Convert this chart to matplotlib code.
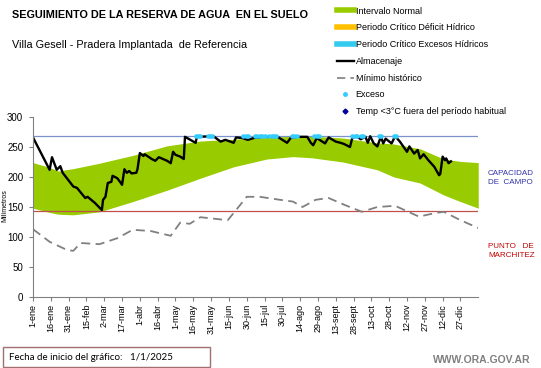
import matplotlib.pyplot as plt
from matplotlib.lines import Line2D
from matplotlib.patches import Rectangle
import numpy as np

plt.rcParams['font.family'] = ['Liberation Sans', 'DejaVu Sans']

# datos (dia del año desde 1-ene, milimetros)
band_days = [0, 14, 21, 34, 56, 84, 113, 141, 169, 197, 219, 235, 261, 290, 304, 326, 346, 360, 375]
band_upper = [224, 216, 210, 214, 223, 236, 252, 260, 263, 266, 268, 268, 265, 257, 255, 247, 230, 226, 224]
band_lower = [148, 141, 138, 137, 142, 159, 178, 198, 217, 230, 234, 232, 225, 212, 200, 190, 170, 159, 148]

min_days = [0, 14, 29, 34, 40, 56, 71, 84, 99, 116, 124, 132, 141, 164, 169, 180, 191, 208, 219,
            227, 238, 249, 263, 277, 290, 305, 325, 339, 346, 360, 375]
min_hist = [113, 92, 78, 77, 90, 88, 98, 112, 110, 102, 124, 122, 133, 128, 140, 167, 167, 162, 159,
            150, 162, 165, 153, 142, 150, 152, 134, 140, 142, 128, 115]

alm_days = [0, 14, 16, 20, 23, 25, 34, 37, 44, 46, 52, 58, 59, 61, 63, 66, 67, 71, 74, 75, 77, 79,
            81, 83, 87, 88, 90, 93, 94, 100, 103, 106, 113, 116, 118, 120, 124, 127, 128, 137, 138,
            152, 158, 162, 169, 171, 176, 181, 186, 194, 206, 214, 217, 222, 231, 234, 236, 239,
            246, 249, 255, 259, 262, 267, 269, 273, 276, 280, 282, 284, 287, 290, 293, 295, 297,
            302, 305, 309, 315, 317, 321, 324, 326, 329, 333, 338, 342, 343, 345, 347, 348, 350, 352]
almacenaje = [266, 212, 233, 212, 218, 207, 184, 182, 165, 167, 157, 145, 162, 167, 190, 192, 202,
              198, 190, 187, 213, 207, 210, 206, 207, 213, 240, 235, 238, 230, 227, 233, 227, 223,
              242, 237, 234, 230, 267, 257, 267, 268, 259, 262, 257, 266, 265, 262, 265, 267, 267,
              257, 265, 267, 267, 257, 253, 265, 256, 266, 259, 257, 255, 250, 266, 267, 263, 267,
              257, 268, 256, 251, 267, 256, 264, 256, 268, 259, 242, 251, 239, 245, 231, 238, 228,
              217, 203, 205, 234, 228, 231, 223, 226]

exceso_days = [137, 139, 141, 147, 149, 151, 177, 179, 181, 187, 189, 191, 193, 195, 199, 201, 203,
               205, 218, 220, 222, 237, 239, 241, 269, 271, 273, 276, 278, 291, 293, 304, 306]
exceso = [269] * len(exceso_days)

capacidad_campo = 269
punto_marchitez = 144

tick_days = list(range(0, 361, 15))
tick_labels = ['1-ene', '16-ene', '31-ene', '15-feb', '2-mar', '17-mar', '1-abr', '16-abr', '1-may',
               '16-may', '31-may', '15-jun', '30-jun', '15-jul', '30-jul', '14-ago', '29-ago',
               '13-sept', '28-sept', '13-oct', '28-oct', '12-nov', '27-nov', '12-dic', '27-dic']

green = '#99cc00'
fig = plt.figure(figsize=(5.41, 3.68), dpi=100)
ax = fig.add_axes([0.061, 0.193, 0.823, 0.489])

ax.fill_between(band_days, band_lower, band_upper, color=green, lw=0)
ax.axhline(capacidad_campo, color='#7b93c9', lw=0.9)
ax.axhline(punto_marchitez, color='#c0504d', lw=0.9)
ax.plot(min_days, min_hist, color='#808080', lw=1.3, dashes=(5, 3))
ax.plot(alm_days, almacenaje, color='black', lw=1.7)
ax.plot(exceso_days, exceso, ls='none', marker='o', ms=3.3, color='#33ccff', mew=0)

ax.set_xlim(0, 375)
ax.set_ylim(0, 300)
ax.set_yticks(range(0, 301, 50))
ax.set_xticks(tick_days)
ax.set_xticklabels(tick_labels, rotation=90, fontsize=6.5)
ax.tick_params(axis='y', labelsize=7, length=3, color='#808080', pad=4)
ax.tick_params(axis='x', length=3, color='#808080', pad=2)
for s in ['top', 'right']:
    ax.spines[s].set_visible(False)
for s in ['left', 'bottom']:
    ax.spines[s].set_color('#808080')
fig.text(5 / 541, 1 - 206 / 368, 'Milímetros', fontsize=5, rotation=90, ha='center', va='center')

fig.text(488 / 541, 1 - 178 / 368, 'CAPACIDAD\nDE  CAMPO', color='#3333aa', fontsize=5.8,
         va='center', ha='left', linespacing=1.3)
fig.text(488 / 541, 1 - 251 / 368, 'PUNTO   DE\nMARCHITEZ', color='#c00000', fontsize=5.8,
         va='center', ha='left', linespacing=1.3)

fig.text(12 / 541, 1 - 15 / 368, 'SEGUIMIENTO DE LA RESERVA DE AGUA  EN EL SUELO',
         fontsize=7.8, fontweight='bold', va='center')
fig.text(12 / 541, 1 - 45 / 368, 'Villa Gesell - Pradera Implantada  de Referencia',
         fontsize=7.8, va='center')

handles = [
    Line2D([], [], color=green, lw=4),
    Line2D([], [], color='#ffc000', lw=4),
    Line2D([], [], color='#33ccee', lw=4),
    Line2D([], [], color='black', lw=1.7),
    Line2D([], [], color='#808080', lw=1.2, dashes=(5, 3)),
    Line2D([], [], color='#33ccff', ls='none', marker='o', ms=2.5),
    Line2D([], [], color='#000099', ls='none', marker='D', ms=2.5),
]
labels = ['Intervalo Normal', 'Periodo Crítico Déficit Hídrico', 'Periodo Crítico Excesos Hídricos',
          'Almacenaje', 'Mínimo histórico', 'Exceso', 'Temp <3°C fuera del período habitual']
fig.legend(handles, labels, loc='upper left', bbox_to_anchor=(333 / 541, 1 - 3 / 368),
           frameon=False, fontsize=6.5, handlelength=1.9, handletextpad=0.2,
           labelspacing=0.86, borderaxespad=0)

box = Rectangle((3 / 541, 1 - 367 / 368), 207 / 541, 20 / 368, transform=fig.transFigure,
                fill=False, edgecolor='#a07070', lw=1)
fig.add_artist(box)
fig.text(9 / 541, 1 - 357 / 368, 'Fecha de inicio del gráfico:   1/1/2025', fontsize=7,
         va='center', family=['Lato', 'DejaVu Sans'])
fig.text(530 / 541, 1 - 360 / 368, 'WWW.ORA.GOV.AR', fontsize=7.5, color='#808080',
         fontweight='bold', ha='right', va='center')

fig.savefig('out.png', dpi=100)
